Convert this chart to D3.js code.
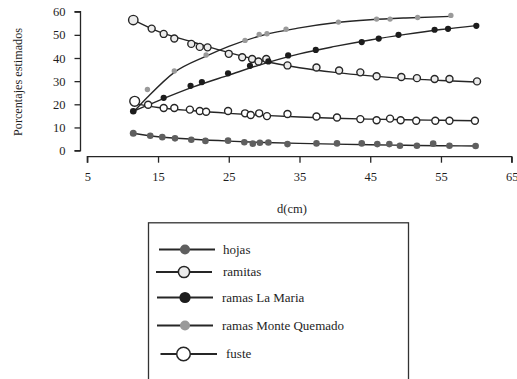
<!DOCTYPE html>
<html>
<head>
<meta charset="utf-8">
<script src="https://cdn.jsdelivr.net/npm/d3@7"></script>
<style>
  html, body { margin: 0; padding: 0; background: #fff; }
  svg { display: block; font-family: "Liberation Serif", "Times New Roman", serif; }
</style>
</head>
<body>
<svg id="chart" width="517" height="379"></svg>
<script>
// Observed biomass shares (%) by diameter d (cm)
const hojasD = [11.5, 13.9, 15.6, 17.4, 19.7, 21.7, 24.9, 27.2, 28.4, 29.4, 30.6, 33.3, 37.4, 40.3, 43.8, 46.0, 47.7, 49.2, 51.6, 53.9, 56.2, 59.9];
const hojasV = [7.5, 6.4, 5.8, 5.3, 4.7, 4.2, 4.3, 3.6, 3.0, 3.4, 3.5, 2.8, 3.1, 3.1, 3.1, 2.8, 2.8, 2.1, 2.1, 3.0, 2.1, 2.0];

const ramitasD = [11.5, 14.1, 15.8, 17.3, 19.7, 20.9, 22.0, 25.0, 26.9, 28.3, 29.2, 30.3, 33.3, 37.4, 40.6, 43.6, 45.9, 49.4, 51.6, 54.1, 56.2, 60.1];
const ramitasV = [56.4, 52.7, 50.4, 48.4, 46.1, 44.8, 44.6, 41.8, 40.3, 39.6, 38.5, 39.6, 36.8, 35.9, 34.6, 33.8, 32.1, 31.8, 31.3, 30.9, 30.9, 29.9];

const laMariaD = [11.5, 15.8, 19.6, 21.2, 24.9, 28.0, 30.6, 33.4, 37.3, 43.8, 46.2, 49.0, 54.1, 56.0, 60.0];
const laMariaV = [17.0, 22.8, 28.0, 29.6, 33.4, 36.6, 38.5, 41.1, 43.5, 46.9, 48.4, 50.0, 52.2, 52.6, 53.9];

const monteQD = [13.5, 17.3, 21.8, 27.3, 29.3, 30.4, 33.1, 40.5, 45.9, 47.8, 51.7, 56.4];
const monteQV = [26.4, 34.4, 41.3, 47.6, 50.2, 50.5, 52.4, 55.5, 56.8, 56.8, 57.5, 58.4];

const fusteD = [11.7, 13.6, 15.8, 17.3, 19.5, 20.9, 21.8, 24.9, 27.3, 28.1, 29.3, 30.4, 33.3, 37.4, 40.3, 43.6, 45.9, 47.8, 49.3, 51.5, 54.2, 56.2, 59.8];
const fusteV = [21.3, 19.8, 18.4, 18.4, 17.7, 17.1, 16.8, 17.1, 16.1, 15.4, 16.1, 14.9, 15.8, 14.7, 14.3, 13.6, 13.1, 13.8, 13.1, 12.9, 12.9, 12.9, 12.9];

// Fitted trend curves, sampled along d
const hojasFitD = [11.5, 15, 20, 25, 30, 35, 40, 45, 50, 55, 60];
const hojasFitV = [7.5, 6.0, 4.9, 4.1, 3.5, 3.1, 2.8, 2.5, 2.3, 2.1, 2.0];
const ramitasFitD = [11.5, 15, 20, 25, 30, 35, 40, 45, 50, 55, 60.1];
const ramitasFitV = [56.5, 51.5, 46.8, 42.3, 38.6, 35.8, 33.8, 32.3, 31.1, 30.3, 29.6];
const laMariaFitD = [11.5, 15, 20, 25, 30, 35, 40, 45, 50, 55, 60];
const laMariaFitV = [17.0, 21.5, 27.5, 32.6, 37.6, 41.8, 45.0, 47.8, 50.2, 52.3, 54.0];
const monteQFitD = [11.7, 13.5, 17.3, 21.8, 25, 30, 35, 40, 45, 50, 56.4];
const monteQFitV = [17.2, 23.0, 33.8, 40.8, 45.0, 50.0, 53.0, 55.2, 56.5, 57.3, 58.0];
const fusteFitD = [11.7, 15, 20, 25, 30, 35, 40, 45, 50, 55, 59.8];
const fusteFitV = [20.3, 18.6, 17.2, 16.1, 15.2, 14.5, 14.0, 13.6, 13.3, 13.1, 12.9];

const xTicks = [5, 15, 25, 35, 45, 55, 65];
const yTicks = [0, 10, 20, 30, 40, 50, 60];
const legendLabels = ["hojas", "ramitas", "ramas La  Maria", "ramas Monte Quemado", "fuste"];

const svg = d3.select("#chart");
const x = d3.scaleLinear().domain([5, 65]).range([87.3, 511.7]);
const y = d3.scaleLinear().domain([0, 60]).range([150.6, 11.7]);
const ink = "#262626";

// Axes
const yAxis = svg.append("g").attr("transform", "translate(80.5,0)")
  .call(d3.axisLeft(y).tickValues(yTicks).tickSize(6).tickPadding(9).tickFormat(d3.format("d")));
const xAxis = svg.append("g").attr("transform", "translate(0,156.7)")
  .call(d3.axisBottom(x).tickValues(xTicks).tickSize(6).tickPadding(9).tickFormat(d3.format("d")));
[yAxis, xAxis].forEach(a => {
  a.select(".domain").attr("stroke", ink).attr("stroke-width", 1.3);
  a.selectAll(".tick line").attr("stroke", ink).attr("stroke-width", 1.3);
  a.selectAll(".tick text").attr("fill", "#1e1e1e").style("font-size", "12.5px").style("font-family", "Liberation Serif, serif");
});
yAxis.select(".domain").attr("d", `M-6,${y(0)}H0V${y(60)}H-6`);
xAxis.select(".domain").attr("d", `M${x(5)},6V0H${x(65)}V6`);

svg.append("text").attr("transform", "translate(22,82) rotate(-90)")
  .attr("text-anchor", "middle").attr("font-size", 12.2).attr("fill", "#1e1e1e")
  .text("Porcentajes estimados");
svg.append("text").attr("x", 292).attr("y", 212.5)
  .attr("text-anchor", "middle").attr("font-size", 12.5).attr("fill", "#1e1e1e")
  .text("d(cm)");

const line = d3.line().x(d => x(d[0])).y(d => y(d[1])).curve(d3.curveMonotoneX);
const zip = (a, b) => a.map((v, i) => [v, b[i]]);

const series = [
  { fitD: hojasFitD, fitV: hojasFitV, d: hojasD, v: hojasV, fill: "#5f5f5f", stroke: "none", r: 3.3, r0: 3.5 },
  { fitD: ramitasFitD, fitV: ramitasFitV, d: ramitasD, v: ramitasV, fill: "#ececec", stroke: ink, r: 3.5, r0: 4.7 },
  { fitD: laMariaFitD, fitV: laMariaFitV, d: laMariaD, v: laMariaV, fill: "#1c1c1c", stroke: "none", r: 3.1, r0: 3.3 },
  { fitD: monteQFitD, fitV: monteQFitV, d: monteQD, v: monteQV, fill: "#9a9a9a", stroke: "none", r: 2.7, r0: 2.7 },
  { fitD: fusteFitD, fitV: fusteFitV, d: fusteD, v: fusteV, fill: "#ffffff", stroke: ink, r: 3.5, r0: 4.9 }
];

series.forEach(s => {
  svg.append("path").datum(zip(s.fitD, s.fitV)).attr("d", line)
    .attr("fill", "none").attr("stroke", ink).attr("stroke-width", 1.4);
});
series.forEach(s => {
  svg.append("g").selectAll("circle").data(zip(s.d, s.v)).join("circle")
    .attr("cx", d => x(d[0])).attr("cy", d => y(d[1]))
    .attr("r", (d, i) => i === 0 ? s.r0 : s.r)
    .attr("fill", s.fill).attr("stroke", s.stroke).attr("stroke-width", 1.4);
});

// Legend
svg.append("rect").attr("x", 148.5).attr("y", 222.8).attr("width", 260).attr("height", 170)
  .attr("fill", "none").attr("stroke", "#333").attr("stroke-width", 1.3);
const legendRows = [
  { y: 249.5, x1: 159, x2: 215, cx: 185, r: 5, tx: 223 },
  { y: 272, x1: 156, x2: 212, cx: 184, r: 5.6, tx: 223 },
  { y: 297.5, x1: 157, x2: 213, cx: 185, r: 5.6, tx: 222 },
  { y: 325.5, x1: 157, x2: 213, cx: 185, r: 5, tx: 222 },
  { y: 354, x1: 160.5, x2: 217, cx: 183.5, r: 6.8, tx: 226 }
];
legendLabels.forEach((lab, i) => {
  const row = legendRows[i], s = series[i];
  const g = svg.append("g");
  g.append("line").attr("x1", row.x1).attr("x2", row.x2).attr("y1", row.y).attr("y2", row.y)
    .attr("stroke", ink).attr("stroke-width", 1.8);
  g.append("circle").attr("cx", row.cx).attr("cy", row.y).attr("r", row.r)
    .attr("fill", s.fill).attr("stroke", s.stroke === "none" ? "none" : ink).attr("stroke-width", 1.5);
  g.append("text").attr("x", row.tx).attr("y", row.y + 4).attr("font-size", 13).attr("fill", "#1e1e1e")
    .text(lab);
});
</script>
</body>
</html>
